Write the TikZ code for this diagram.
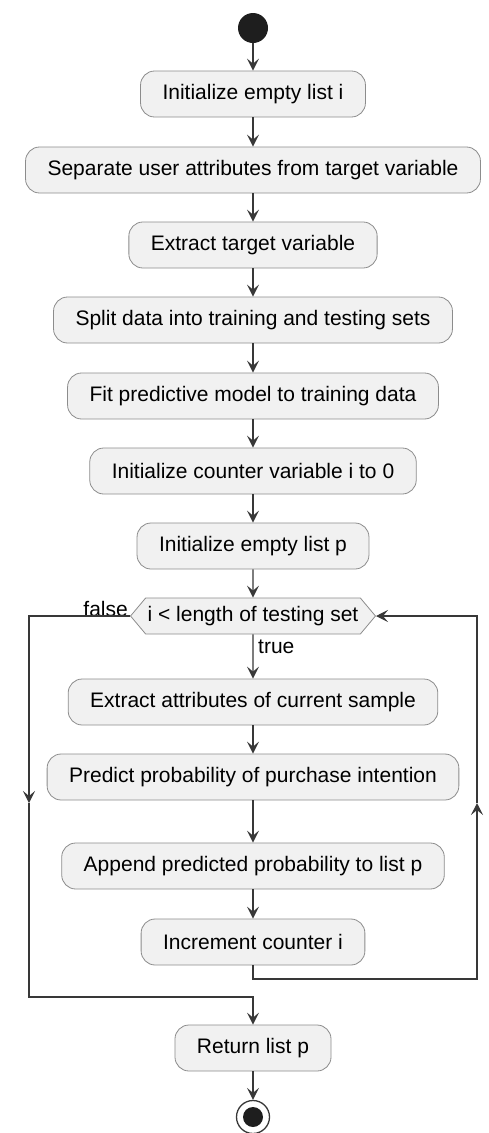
\documentclass[tikz,border=0pt]{standalone}
\usepackage{fontspec}
\setmainfont{Liberation Sans}
\usetikzlibrary{shapes.symbols,arrows.meta,positioning,calc}
\definecolor{boxfill}{RGB}{241,241,241}
\definecolor{boxline}{RGB}{140,140,140}
\definecolor{flowline}{RGB}{56,56,56}
\definecolor{dotfill}{RGB}{30,30,30}

\tikzset{
    action/.style={rectangle, draw=boxline, thick, rounded corners=14pt, fill=boxfill, minimum height=46pt, inner xsep=22pt, font=\fontsize{21}{24}\selectfont},
    decision/.style={signal, signal to=west and east, signal pointer angle=100, draw=boxline, thick, fill=boxfill, minimum height=36pt, inner xsep=2pt, font=\fontsize{21}{24}\selectfont},
    guard/.style={inner sep=0pt, font=\fontsize{21}{24}\selectfont},
    flow/.style={draw=flowline, line width=1.3pt, -{Stealth[length=12pt,width=12pt,inset=5pt]}},
}

\begin{document}
\begin{tikzpicture}[x=1pt, y=1pt]
    \useasboundingbox (0,0) rectangle (488,-1133);

    % Start
    \node[circle, fill=dotfill, minimum size=30pt, inner sep=0pt] (start) at (253,-28) {};

    % Preparation steps
    \node[action] (initi) at (253,-94) {Initialize empty list i};
    \node[action] (separate) at (253,-170) {Separate user attributes from target variable};
    \node[action] (target) at (253,-245) {Extract target variable};
    \node[action] (split) at (253,-320) {Split data into training and testing sets};
    \node[action] (fit) at (253,-396) {Fit predictive model to training data};
    \node[action] (counter) at (253,-471) {Initialize counter variable i to 0};
    \node[action] (initp) at (253,-546) {Initialize empty list p};

    % Loop test
    \node[decision] (check) at (253,-616) {i < length of testing set};
    \node[guard, anchor=east] (falselbl) at (128,-609) {false};
    \node[guard, anchor=west] (truelbl) at (258,-647) {true};

    % Loop body
    \node[action] (attrs) at (253,-702) {Extract attributes of current sample};
    \node[action] (predict) at (253,-777) {Predict probability of purchase intention};
    \node[action] (append) at (253,-866) {Append predicted probability to list p};
    \node[action] (incr) at (253,-942) {Increment counter i};

    % Result and end
    \node[action] (ret) at (253,-1048) {Return list p};
    \node[circle, draw=flowline, line width=1.3pt, fill=white, minimum size=33pt, inner sep=0pt] (stop) at (253,-1117) {};
    \node[circle, fill=dotfill, minimum size=20pt, inner sep=0pt] (stopdot) at (stop) {};

    % Corners of the loop lines
    \coordinate (loopcorner) at (477,-979);
    \coordinate (loopmid) at (477,-803);
    \coordinate (falsemid) at (29,-803);
    \coordinate (falsecorner) at (29,-997);

    % Straight flow
    \draw[flow] (start) -- (initi);
    \draw[flow] (initi) -- (separate);
    \draw[flow] (separate) -- (target);
    \draw[flow] (target) -- (split);
    \draw[flow] (split) -- (fit);
    \draw[flow] (fit) -- (counter);
    \draw[flow] (counter) -- (initp);
    \draw[flow] (initp) -- (check);
    \draw[flow] (check) -- (attrs);
    \draw[flow] (attrs) -- (predict);
    \draw[flow] (predict) -- (append);
    \draw[flow] (append) -- (incr);
    \draw[flow] (ret) -- (stop);

    % Back to the test
    \draw[flow] (incr.south) |- (loopcorner) -- (loopmid);
    \draw[flow] (loopmid) |- (check.east);

    % Leave the loop
    \draw[flow] (check.west) -| (falsemid);
    \draw[flow] (falsemid) -- (falsecorner) -| (ret.north);
\end{tikzpicture}
\end{document}
